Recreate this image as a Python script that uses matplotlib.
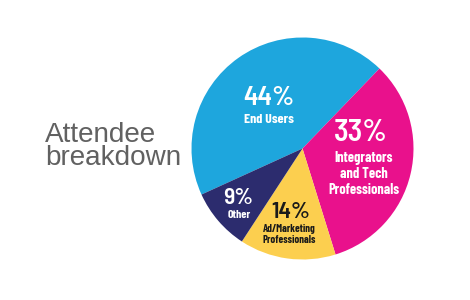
import matplotlib
matplotlib.use("Agg")
import matplotlib.pyplot as plt

# Attendee shares (percent)
categories = ["End Users", "Integrators\nand Tech\nProfessionals", "Ad/Marketing\nProfessionals", "Other"]
shares = [44, 33, 14, 9]
colors = ["#1EA6DD", "#E9118C", "#FCCF4F", "#2C2C6E"]
pct_colors = ["white", "white", "#1A1A1A", "white"]
title_text = "Attendee\nbreakdown"

W, H = 470, 300
fig = plt.figure(figsize=(W / 100, H / 100), dpi=100)
fig.patch.set_facecolor("white")

cx, cy, r = 302.5, 148.5, 111
ax = fig.add_axes([(cx - r) / W, (H - cy - r) / H, 2 * r / W, 2 * r / H])
ax.pie(shares, colors=colors, startangle=204.5, counterclock=False,
       radius=1.0, wedgeprops=dict(linewidth=0))
ax.set_xlim(-1, 1)
ax.set_ylim(-1, 1)
ax.set_aspect("equal")
ax.axis("off")

pct_font = ["Barlow Semi Condensed", "DejaVu Sans"]
lbl_font = ["Barlow Condensed", "DejaVu Sans"]
title_font = ["Liberation Sans", "DejaVu Sans"]

fig.canvas.draw()
renderer = fig.canvas.get_renderer()


def place(s, x, base, width, family, weight, color, gap=0.0, ha="center"):
    """Text whose first baseline sits at pixel (x, base), scaled to a pixel width."""
    n = s.count("\n")
    t = fig.text(x / W, 1 - (base + gap * n) / H, s, ha=ha, va="baseline",
                 fontsize=10, family=family, fontweight=weight, color=color)
    bb = t.get_window_extent(renderer)
    t.set_fontsize(10 * width / bb.width)
    if n:
        fp = t.get_fontproperties()
        hs, ds = [], []
        for line in s.split("\n") + ["lp"]:
            _, h, d = renderer.get_text_width_height_descent(line, fp, ismath=False)
            hs.append(h)
            ds.append(d)
        h, d = max(hs), max(ds)
        t.set_linespacing((gap - d) / (h - d))
    return t


# (pct x, pct baseline, pct width, label x, label baseline, label width, line gap)
layout = [
    (269, 105.0, 51, 268.5, 123.3, 50, 0.0),
    (360.5, 141.0, 54, 364, 161.7, 71, 16.3),
    (291, 218.3, 39, 289, 232.3, 53, 11.0),
    (238.5, 204.0, 30, 239, 217.8, 23, 0.0),
]
for share, name, pc, (px, pb, pw, lx, lb, lw, gap) in zip(shares, categories, pct_colors, layout):
    place(f"{share}%", px, pb, pw, pct_font, 600, pc)
    place(name, lx, lb, lw, lbl_font, 700, pc, gap)

place(title_text, 45, 141.7, 137, title_font, "normal", "#616161", gap=23.3, ha="left")

fig.savefig("out.png", dpi=100, facecolor="white")
